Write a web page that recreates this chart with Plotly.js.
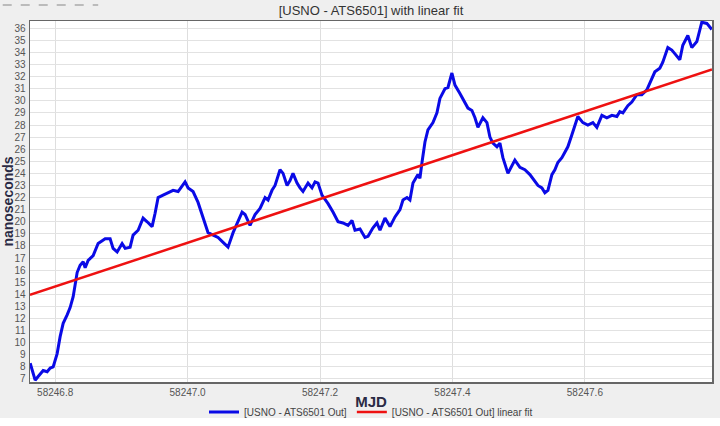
<!DOCTYPE html>
<html>
<head>
<meta charset="utf-8">
<script src="https://cdn.plot.ly/plotly-3.0.1.min.js"></script>
<style>html,body{margin:0;padding:0;background:#fff;}#chart{width:720px;height:426px;}</style>
</head>
<body>
<div id="chart"></div>
<script>
// Measured series: MJD vs nanoseconds
const mjd = [
58246.7623,58246.7698,58246.7743,58246.7819,58246.7879,58246.7925,58246.7970,58246.8030,58246.8075,58246.8121,
58246.8181,58246.8226,58246.8272,58246.8302,58246.8332,58246.8377,58246.8423,58246.8453,58246.8498,58246.8574,
58246.8649,58246.8755,58246.8830,58246.8875,58246.8936,58246.9011,58246.9057,58246.9132,58246.9177,58246.9253,
58246.9328,58246.9389,58246.9464,58246.9509,58246.9555,58246.9630,58246.9706,58246.9781,58246.9857,58246.9962,
58247.0008,58247.0083,58247.0158,58247.0234,58247.0309,58247.0385,58247.0460,58247.0536,58247.0611,58247.0687,
58247.0762,58247.0823,58247.0868,58247.0943,58247.1019,58247.1094,58247.1170,58247.1215,58247.1275,58247.1321,
58247.1396,58247.1442,58247.1502,58247.1547,58247.1592,58247.1653,58247.1698,58247.1743,58247.1819,58247.1879,
58247.1925,58247.1970,58247.2030,58247.2121,58247.2196,58247.2272,58247.2347,58247.2423,58247.2483,58247.2528,
58247.2604,58247.2679,58247.2725,58247.2800,58247.2860,58247.2906,58247.2981,58247.3057,58247.3132,58247.3208,
58247.3253,58247.3313,58247.3358,58247.3404,58247.3479,58247.3509,58247.3540,58247.3585,58247.3630,58247.3706,
58247.3766,58247.3811,58247.3887,58247.3932,58247.3992,58247.4038,58247.4113,58247.4189,58247.4234,58247.4294,
58247.4340,58247.4385,58247.4460,58247.4521,58247.4566,58247.4611,58247.4672,58247.4717,58247.4762,58247.4838,
58247.4943,58247.5019,58247.5094,58247.5170,58247.5215,58247.5291,58247.5351,58247.5396,58247.5442,58247.5502,
58247.5547,58247.5592,58247.5653,58247.5698,58247.5743,58247.5804,58247.5849,58247.5894,58247.5970,58247.6045,
58247.6121,58247.6181,58247.6257,58247.6332,58247.6408,58247.6483,58247.6528,58247.6574,58247.6649,58247.6709,
58247.6785,58247.6860,58247.6936,58247.7011,58247.7057,58247.7132,58247.7177,58247.7253,58247.7313,58247.7358,
58247.7434,58247.7479,58247.7555,58247.7615,58247.7691,58247.7766,58247.7842,58247.7917
];
const ns = [
8.3,6.9,7.2,7.7,7.6,7.9,8.0,9.1,10.5,11.6,
12.3,12.9,13.8,14.9,15.8,16.4,16.7,16.2,16.8,17.2,
18.2,18.6,18.6,17.8,17.5,18.2,17.8,17.9,18.9,19.3,
20.3,20.0,19.6,20.7,22.0,22.2,22.4,22.6,22.5,23.3,
22.8,22.5,21.6,20.4,19.1,18.9,18.7,18.3,17.9,19.1,
20.0,20.8,20.6,19.7,20.6,21.1,22.0,21.8,22.6,23.0,
24.3,24.0,23.0,23.4,24.0,23.2,22.8,22.5,23.2,22.8,
23.3,23.2,22.2,21.5,20.8,20.0,19.9,19.7,20.1,19.3,
19.4,18.7,18.8,19.5,19.9,19.3,20.3,19.6,20.4,21.0,
21.8,22.0,21.8,23.2,23.9,23.6,24.9,26.6,27.6,28.2,
29.0,30.2,31.0,31.1,32.3,31.3,30.6,29.8,29.4,29.2,
28.6,27.8,28.6,28.2,27.0,26.5,26.2,26.5,25.3,24.0,
25.1,24.5,24.3,23.9,23.6,23.0,22.8,22.4,22.6,23.9,
24.3,24.9,25.3,25.8,26.2,27.2,28.0,28.7,28.2,28.0,
28.2,27.8,28.8,28.6,28.8,28.7,29.1,29.0,29.6,29.9,
30.5,30.5,30.9,31.9,32.4,32.7,33.2,34.4,34.2,33.9,
33.4,34.6,35.4,34.4,34.9,36.5,36.4,35.9
];
// Linear fit endpoints
const fitMjd = [58246.762, 58247.792];
const fitNs = [13.95, 32.6];
const seriesNames = ["[USNO - ATS6501 Out]", "[USNO - ATS6501 Out] linear fit"];
const xTickVals = [58246.8, 58247.0, 58247.2, 58247.4, 58247.6];

const FONT = "'Liberation Sans', Arial, sans-serif";

const traces = [
  {x: mjd, y: ns, type: 'scatter', mode: 'lines', name: seriesNames[0],
   line: {color: '#0a0ae6', width: 3}},
  {x: fitMjd, y: fitNs, type: 'scatter', mode: 'lines', name: seriesNames[1],
   line: {color: '#ee1111', width: 2.5}}
];

const layout = {
  width: 720, height: 426,
  margin: {l: 30, r: 8, t: 21, b: 44, autoexpand: false},
  paper_bgcolor: '#efefef',
  plot_bgcolor: '#ffffff',
  font: {family: FONT, color: '#444', size: 10},
  title: {text: '[USNO - ATS6501] with linear fit', x: 0.5, xref: 'paper', y: 0.975, yref: 'container', yanchor: 'middle',
          font: {family: FONT, size: 13, color: '#333'}},
  xaxis: {
    range: [58246.762, 58247.792], tickvals: xTickVals, tickformat: '.1f',
    showgrid: true, gridcolor: '#dedede', gridwidth: 1, zeroline: false,
    showline: true, linecolor: '#666', linewidth: 1.5, mirror: true, ticks: '',
    ticklabelstandoff: 0, automargin: false,
    tickfont: {family: FONT, size: 10, color: '#555'},
    title: {text: 'MJD', standoff: 0, font: {family: FONT, size: 15, color: '#2a2a44', weight: 'bold'}}
  },
  yaxis: {
    range: [6.75, 36.6], dtick: 1, tick0: 7,
    showgrid: true, gridcolor: '#e2e2e2', gridwidth: 1, zeroline: false,
    showline: true, linecolor: '#666', linewidth: 1.5, mirror: true, ticks: '',
    ticklabelstandoff: 1, automargin: false,
    tickfont: {family: FONT, size: 10, color: '#555'},
    title: {text: 'nanoseconds', standoff: 4, font: {family: FONT, size: 14, color: '#2a2a44', weight: 'bold'}}
  },
  showlegend: true,
  legend: {orientation: 'h', x: 0.5, xanchor: 'center', y: -0.083, yanchor: 'middle',
           font: {family: FONT, size: 10, color: '#444'}, bgcolor: 'rgba(0,0,0,0)', itemwidth: 30},
  shapes: [
    {type: 'line', xref: 'paper', yref: 'paper', x0: -0.04, x1: 0.1, y0: 1.044, y1: 1.044,
     line: {color: '#aaaaaa', width: 1.5, dash: 'dash'}},
    {type: 'rect', xref: 'paper', yref: 'paper', x0: -0.05, x1: 1.02, y0: -0.0997, y1: -0.13,
     line: {width: 0}, fillcolor: '#ffffff', layer: 'below'}
  ]
};

Plotly.newPlot('chart', traces, layout, {displayModeBar: false, staticPlot: true});
</script>
</body>
</html>
